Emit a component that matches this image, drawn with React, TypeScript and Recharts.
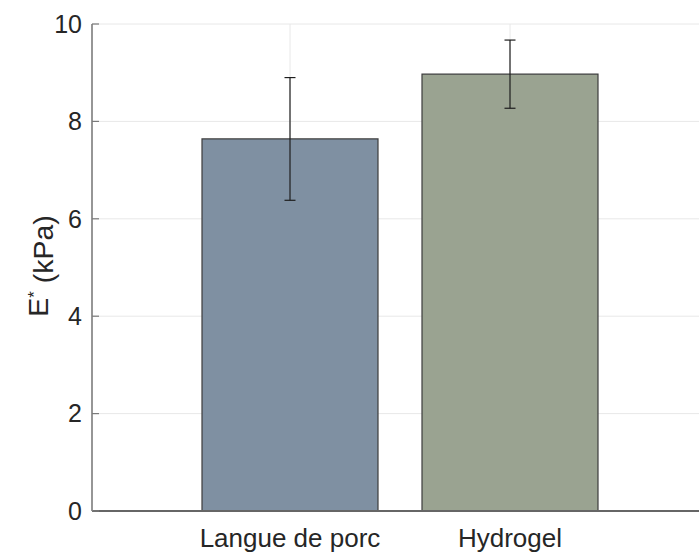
import React from 'react';
import { BarChart, Bar, XAxis, YAxis, CartesianGrid, ErrorBar, Cell } from 'recharts';

const categories = ['Langue de porc', 'Hydrogel'];
const means = [7.64, 8.97];
const errors = [1.26, 0.7];
const barColors = ['#7f90a2', '#9aa391'];
const yTicks = [0, 2, 4, 6, 8, 10];

const data = categories.map((name, i) => ({ name, value: means[i], err: errors[i] }));

const FONT = "'Liberation Sans', Arial, Helvetica, sans-serif";
const TEXT = '#262626';

// y ticks point inwards, like the original plot
const YTick = (props: any) => {
  const { x, y, payload } = props;
  return (
    <g>
      <line x1={x + 10} x2={x + 17} y1={y} y2={y} stroke="#7a7a7a" strokeWidth={1.2} />
      <text x={x} y={y} dy="0.355em" textAnchor="end" fontSize={25} fontFamily={FONT} fill={TEXT}>
        {payload.value}
      </text>
    </g>
  );
};

const YLabel = () => (
  <text
    x={38}
    y={266}
    transform="rotate(-90 38 266)"
    textAnchor="middle"
    dy="0.355em"
    fontSize={28.5}
    fontFamily={FONT}
    fill={TEXT}
  >
    E
    <tspan dy="-0.45em" fontSize={17}>*</tspan>
    <tspan dy="0.45em"> (kPa)</tspan>
  </text>
);

const App: React.FC = () => {
  return (
    <div style={{ position: 'absolute', left: 0, top: 0, width: 699, height: 552, overflow: 'hidden', background: '#fff' }}>
      <BarChart
        width={720}
        height={552}
        data={data}
        margin={{ top: 24, right: 12, left: 0, bottom: 0 }}
        barCategoryGap="10%"
      >
        <CartesianGrid stroke="#e8e8e8" strokeWidth={1} />
        <XAxis
          dataKey="name"
          height={41}
          padding={{ left: 88, right: 88 }}
          tickLine={false}
          tickSize={0}
          tickMargin={18}
          axisLine={{ stroke: '#666666', strokeWidth: 1.8 }}
          tick={{ fontSize: 26, fontFamily: FONT, fill: TEXT }}
          interval={0}
        />
        <YAxis
          width={92}
          domain={[0, 10]}
          ticks={yTicks}
          allowDataOverflow
          tickLine={false}
          tickSize={0}
          tickMargin={10}
          axisLine={{ stroke: '#8c8c8c', strokeWidth: 1.8 }}
          tick={<YTick />}
          label={<YLabel />}
        />
        <Bar dataKey="value" stroke="#3c3c3c" strokeWidth={1.2} isAnimationActive={false}>
          {data.map((d, i) => (
            <Cell key={d.name} fill={barColors[i]} />
          ))}
          <ErrorBar dataKey="err" width={5.5} stroke="#1e1e1e" strokeWidth={1.2} isAnimationActive={false} />
        </Bar>
      </BarChart>
    </div>
  );
};

export default App;
